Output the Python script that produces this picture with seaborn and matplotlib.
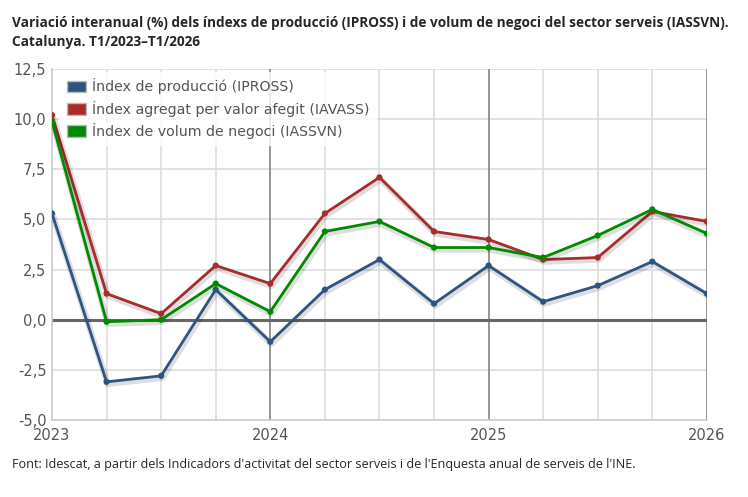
import numpy as np
import pandas as pd
import seaborn as sns
import matplotlib.pyplot as plt
import matplotlib.patheffects as pe
from matplotlib.ticker import FuncFormatter, MultipleLocator

# Dades (variació interanual, %), T1/2023 - T1/2026
trimestres = [2023 + i * 0.25 for i in range(13)]
ipross = [5.3, -3.1, -2.8, 1.5, -1.1, 1.5, 3.0, 0.8, 2.7, 0.9, 1.7, 2.9, 1.3]
iavass = [10.2, 1.3, 0.3, 2.7, 1.8, 5.3, 7.1, 4.4, 4.0, 3.0, 3.1, 5.4, 4.9]
iassvn = [9.9, -0.1, 0.0, 1.8, 0.4, 4.4, 4.9, 3.6, 3.6, 3.1, 4.2, 5.5, 4.3]

series = ['Índex de producció (IPROSS)',
          'Índex agregat per valor afegit (IAVASS)',
          'Índex de volum de negoci (IASSVN)']
colors = ['#2e5582', '#a82c2c', '#008a00']

df = pd.concat([
    pd.DataFrame({'x': trimestres, 'valor': v, 'serie': s})
    for s, v in zip(series, [ipross, iavass, iassvn])
])

sns.set_style('white')
plt.rcParams['font.family'] = ['DejaVu Sans']

fig = plt.figure(figsize=(7.48, 4.97), dpi=100)
ax = fig.add_axes([0.0695, 0.155, 0.8755, 0.706])

# graella
for x in trimestres:
    ax.axvline(x, color='#dddddd', lw=1.2, zorder=0)
for y in np.arange(-5, 12.6, 2.5):
    ax.axhline(y, color='#dddddd', lw=1.2, zorder=0)
for x in [2024, 2025, 2026]:
    ax.axvline(x, color='#888888', lw=1.2, zorder=1)
ax.axhline(0, color='#666666', lw=2.2, zorder=1)

# línies amb ombra
sns.lineplot(data=df, x='x', y='valor', hue='serie', palette=colors,
             linewidth=2.0, ax=ax, zorder=3, legend=False)
for line in ax.get_lines()[-3:]:
    line.set_path_effects([pe.SimpleLineShadow(offset=(0.8, -1.5), shadow_color='#000000',
                                               alpha=0.13, linewidth=4.5),
                           pe.Normal()])
# punts
sns.scatterplot(data=df, x='x', y='valor', hue='serie', palette=colors,
                s=20, linewidth=0, ax=ax, zorder=4, legend=False)

ax.set_xlim(2023, 2026)
ax.set_ylim(-5, 12.5)
ax.yaxis.set_major_locator(MultipleLocator(2.5))
ax.yaxis.set_major_formatter(FuncFormatter(lambda v, p: f'{v:.1f}'.replace('.', ',')))
ax.set_xticks([2023, 2024, 2025, 2026])
ax.set_xticklabels(['2023', '2024', '2025', '2026'])
ax.tick_params(axis='both', labelsize=10.5, colors='#555555', length=0)
ax.tick_params(axis='x', pad=6)
ax.tick_params(axis='y', pad=4)
ax.set_xlabel('')
ax.set_ylabel('')
for side in ['top', 'right']:
    ax.spines[side].set_visible(False)
for side in ['left', 'bottom']:
    ax.spines[side].set_color('#cccccc')
    ax.spines[side].set_linewidth(1.2)

# llegenda
handles = [plt.Rectangle((0, 0), 1, 1, facecolor=c, edgecolor='#bbbbbb', lw=1) for c in colors]
leg = ax.legend(handles, series, loc='upper left', bbox_to_anchor=(0.002, 1.012),
                fontsize=10.2, frameon=True, handlelength=1.35, handleheight=0.9,
                handletextpad=0.45, labelspacing=0.45, borderpad=0.45, labelcolor='#555555')
leg.get_frame().set_facecolor('white')
leg.get_frame().set_alpha(0.8)
leg.get_frame().set_edgecolor('white')
leg.set_zorder(2.5)

fig.text(0.016, 0.968, 'Variació interanual (%) dels índexs de producció (IPROSS) i de volum de negoci del sector serveis (IASSVN).\nCatalunya. T1/2023\u2013T1/2026',
         fontsize=9.8, fontweight='bold', family=['Open Sans', 'DejaVu Sans'],
         va='top', ha='left', linespacing=1.45)
fig.text(0.016, 0.065, "Font: Idescat, a partir dels Indicadors d'activitat del sector serveis i de l'Enquesta anual de serveis de l'INE.",
         fontsize=9.1, family=['Open Sans', 'DejaVu Sans'], va='center', ha='left')

plt.savefig('out.png', dpi=100)
